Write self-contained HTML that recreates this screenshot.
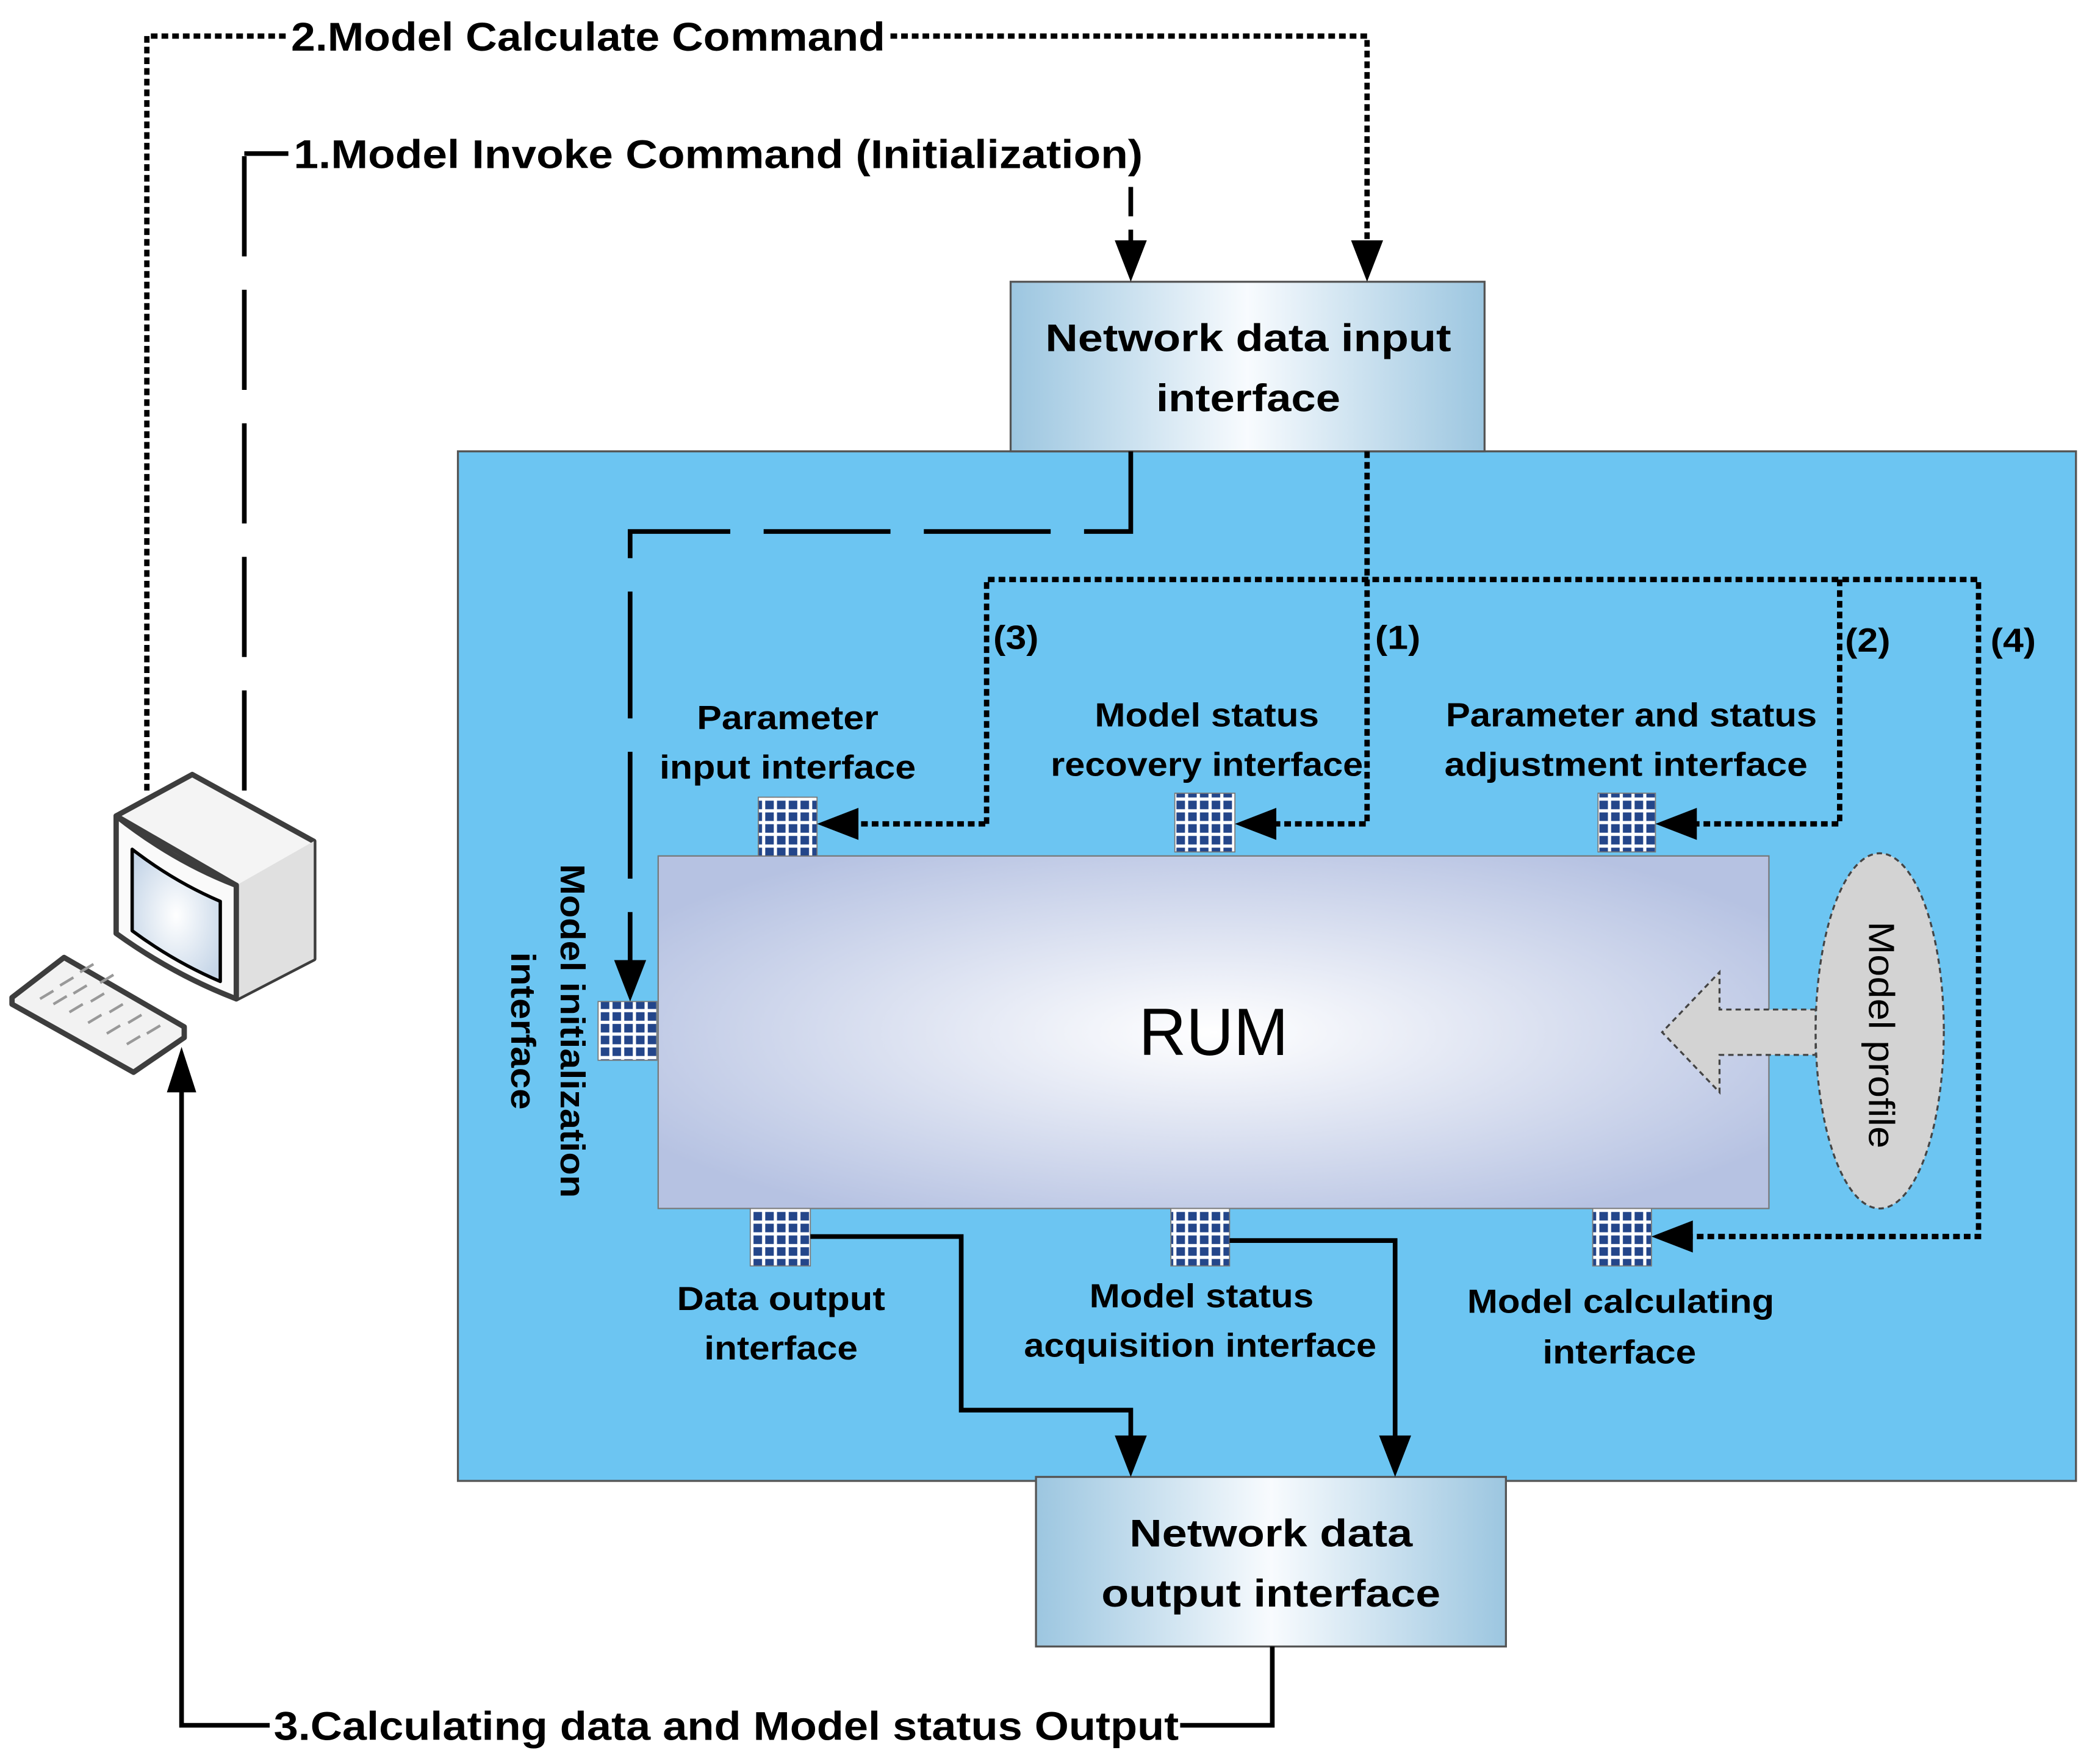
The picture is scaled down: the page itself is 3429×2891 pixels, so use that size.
<!DOCTYPE html>
<html><head><meta charset="utf-8"><style>
html,body{margin:0;padding:0;background:#fff}
svg{display:block}
text{font-family:"Liberation Sans",sans-serif;font-weight:bold;fill:#000}
</style></head><body>
<svg width="3429" height="2891" viewBox="0 0 1567 1321" preserveAspectRatio="none" xmlns="http://www.w3.org/2000/svg">
<defs>
<linearGradient id="hg" x1="0" x2="1" y1="0" y2="0">
<stop offset="0" stop-color="#9cc6e0"/><stop offset="0.5" stop-color="#f8fbfe"/><stop offset="1" stop-color="#9cc6e0"/>
</linearGradient>
<radialGradient id="rg" cx="0.5" cy="0.5" r="0.6">
<stop offset="0" stop-color="#ffffff"/><stop offset="1" stop-color="#b6c2e2"/>
</radialGradient>
<radialGradient id="sg" cx="0.5" cy="0.5" r="0.6">
<stop offset="0" stop-color="#ffffff"/><stop offset="1" stop-color="#c6d6e8"/>
</radialGradient>
<pattern id="chip" width="8.8" height="8.8" patternUnits="userSpaceOnUse">
<rect width="8.8" height="8.8" fill="#fff"/><rect x="1.2" y="1.2" width="6.4" height="6.4" fill="#24468a"/>
</pattern>
</defs>

<rect x="343" y="338" width="1212" height="771" fill="#6cc5f2" stroke="#555" stroke-width="1.5"/>

<rect x="757" y="211" width="355" height="127" fill="url(#hg)" stroke="#555" stroke-width="1.5"/>
<text x="935" y="263" font-size="29" text-anchor="middle" textLength="304" lengthAdjust="spacingAndGlyphs">Network data input</text>
<text x="935" y="308" font-size="29" text-anchor="middle" textLength="138" lengthAdjust="spacingAndGlyphs">interface</text>

<rect x="776" y="1106" width="352" height="127" fill="url(#hg)" stroke="#555" stroke-width="1.5"/>
<text x="952" y="1158" font-size="29" text-anchor="middle" textLength="212" lengthAdjust="spacingAndGlyphs">Network data</text>
<text x="952" y="1203" font-size="29" text-anchor="middle" textLength="254" lengthAdjust="spacingAndGlyphs">output interface</text>

<rect x="493" y="641" width="832" height="264" fill="url(#rg)" stroke="#777" stroke-width="1"/>
<text x="909" y="790" font-size="50" style="font-weight:normal" text-anchor="middle" textLength="112" lengthAdjust="spacingAndGlyphs">RUM</text>

<path d="M1360 756 L1288 756 L1288 728 L1245 773 L1288 818 L1288 790 L1360 790 Z" fill="#d3d3d3" stroke="#444" stroke-width="1.5" stroke-dasharray="4 3"/>

<ellipse cx="1408" cy="772" rx="48" ry="133" fill="#d3d3d3" stroke="#444" stroke-width="1.5" stroke-dasharray="4 3"/>
<text transform="translate(1400,775) rotate(90)" font-size="27" style="font-weight:normal" text-anchor="middle" textLength="170" lengthAdjust="spacingAndGlyphs">Model profile</text>

<text transform="translate(420,772) rotate(90)" font-size="26" text-anchor="middle" textLength="250" lengthAdjust="spacingAndGlyphs">Model initialization</text>
<text transform="translate(383,772) rotate(90)" font-size="26" text-anchor="middle" textLength="118" lengthAdjust="spacingAndGlyphs">interface</text>

<g stroke="#777" stroke-width="0.8">
<rect x="568" y="597" width="44" height="44" fill="url(#chip)"/>
<rect x="880" y="594" width="45" height="44" fill="url(#chip)"/>
<rect x="1197" y="594" width="43" height="44" fill="url(#chip)"/>
<rect x="448" y="750" width="44" height="44" fill="url(#chip)"/>
<rect x="562" y="905" width="45" height="43" fill="url(#chip)"/>
<rect x="877" y="905" width="44" height="43" fill="url(#chip)"/>
<rect x="1193" y="905" width="44" height="43" fill="url(#chip)"/>
</g>

<g font-size="25" text-anchor="middle">
<text x="590" y="546" textLength="136" lengthAdjust="spacingAndGlyphs">Parameter</text>
<text x="590" y="583" textLength="192" lengthAdjust="spacingAndGlyphs">input interface</text>
<text x="904" y="544" textLength="168" lengthAdjust="spacingAndGlyphs">Model status</text>
<text x="904" y="581" textLength="234" lengthAdjust="spacingAndGlyphs">recovery interface</text>
<text x="1222" y="544" textLength="278" lengthAdjust="spacingAndGlyphs">Parameter and status</text>
<text x="1218" y="581" textLength="272" lengthAdjust="spacingAndGlyphs">adjustment interface</text>
<text x="585" y="981" textLength="156" lengthAdjust="spacingAndGlyphs">Data output</text>
<text x="585" y="1018" textLength="115" lengthAdjust="spacingAndGlyphs">interface</text>
<text x="900" y="979" textLength="168" lengthAdjust="spacingAndGlyphs">Model status</text>
<text x="899" y="1016" textLength="264" lengthAdjust="spacingAndGlyphs">acquisition interface</text>
<text x="1214" y="983" textLength="230" lengthAdjust="spacingAndGlyphs">Model calculating</text>
<text x="1213" y="1021" textLength="115" lengthAdjust="spacingAndGlyphs">interface</text>
<text x="761" y="486" textLength="34" lengthAdjust="spacingAndGlyphs">(3)</text>
<text x="1047" y="486" textLength="34" lengthAdjust="spacingAndGlyphs">(1)</text>
<text x="1399" y="488" textLength="34" lengthAdjust="spacingAndGlyphs">(2)</text>
<text x="1508" y="488" textLength="34" lengthAdjust="spacingAndGlyphs">(4)</text>
</g>

<text x="218" y="38" font-size="30" textLength="445" lengthAdjust="spacingAndGlyphs">2.Model Calculate Command</text>
<text x="220" y="126" font-size="30" textLength="636" lengthAdjust="spacingAndGlyphs">1.Model Invoke Command (Initialization)</text>
<text x="205" y="1303" font-size="30" textLength="678" lengthAdjust="spacingAndGlyphs">3.Calculating data and Model status Output</text>

<g fill="none" stroke="#000" stroke-width="3.5">
<g stroke-width="4" stroke-dasharray="5 3">
<path d="M110 592 L110 27 L214 27"/>
<path d="M667 27 L1024 27 L1024 186"/>
<path d="M1024 338 L1024 617 L950 617"/>
<path d="M739 617 L739 434 L1482 434 L1482 926 L1262 926"/>
<path d="M637 617 L739 617"/>
<path d="M1378 434 L1378 617 L1265 617"/>
</g>
<path d="M183 592 L183 115" stroke-dasharray="75 25"/>
<path d="M183 115 L216 115"/>
<path d="M847 140 L847 186" stroke-dasharray="22 10"/>
<path d="M847 338 L847 398 L472 398 L472 726" stroke-dasharray="95 25"/>
<path d="M607 926 L720 926 L720 1056 L847 1056 L847 1080"/>
<path d="M921 929 L1045 929 L1045 1080"/>
<path d="M953 1233 L953 1292 L884 1292"/>
<path d="M202 1292 L136 1292 L136 810"/>
</g>
<g fill="#000">
<polygon points="1024,211 1012,180 1036,180"/>
<polygon points="847,211 835,180 859,180"/>
<polygon points="472,750 460,719 484,719"/>
<polygon points="612,617 643,605 643,629"/>
<polygon points="925,617 956,605 956,629"/>
<polygon points="1240,617 1271,605 1271,629"/>
<polygon points="1237,926 1268,914 1268,938"/>
<polygon points="847,1106 835,1075 859,1075"/>
<polygon points="1045,1106 1033,1075 1057,1075"/>
<polygon points="136,784 125,818 147,818"/>
</g>

<g stroke="#3d3d3d" stroke-width="4" stroke-linejoin="round">
<polygon points="144,580 235,630 235,718 177,748 177,663 87,611" fill="#f4f4f4"/>
<polygon points="177,663 235,630 235,718 177,748" fill="#e0e0e0" stroke-width="0"/>
<path d="M87,611 Q130,645 177,663 L177,748 Q130,730 87,699 Z" fill="#fafafa"/>
<path d="M99,636 Q130,660 165,675 L165,735 Q130,720 99,697 Z" fill="url(#sg)" stroke="#000" stroke-width="2.5"/>
<polygon points="9,747 48,717 138,769 138,777 100,803 9,752" fill="#f2f2f2"/>
</g>
<g stroke="#999" stroke-width="2">
<path d="M30 748 L40 742 M45 738 L55 732 M40 752 L50 746 M55 744 L65 738 M52 758 L62 752 M68 750 L78 744 M66 766 L76 760 M82 758 L92 752 M80 774 L90 768 M96 766 L106 760 M95 782 L105 776 M110 774 L120 768 M60 728 L70 722 M75 736 L85 730"/>
</g>
</svg>
</body></html>
